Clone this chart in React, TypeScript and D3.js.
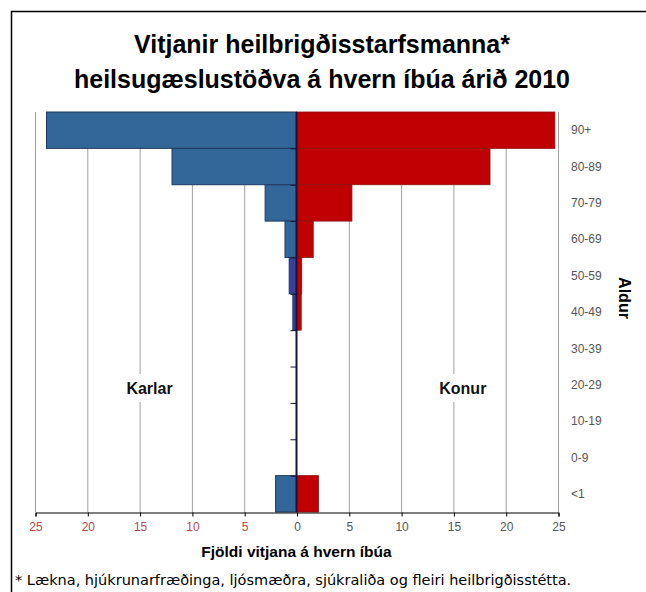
import React, { useEffect, useRef } from 'react';
import * as d3 from 'd3';

// age groups, top to bottom
const ageGroups = ['90+', '80-89', '70-79', '60-69', '50-59', '40-49', '30-39', '20-29', '10-19', '0-9', '<1'];
// visits per inhabitant
const karlar = [23.9, 11.9, 3.0, 1.1, 0.7, 0.35, 0, 0, 0, 0, 2.0];
const konur = [24.7, 18.5, 5.3, 1.6, 0.5, 0.45, 0, 0, 0, 0, 2.1];
const xTicks = [-25, -20, -15, -10, -5, 0, 5, 10, 15, 20, 25];

const titleLines = ['Vitjanir heilbrigðisstarfsmanna*', 'heilsugæslustöðva á hvern íbúa árið 2010'];
const xTitle = 'Fjöldi vitjana á hvern íbúa';
const yTitle = 'Aldur';
const footnote = '* Lækna, hjúkrunarfræðinga, ljósmæðra, sjúkraliða og fleiri heilbrigðisstétta.';

const PopulationPyramid = () => {
  const svgRef = useRef();

  useEffect(() => {
    const svg = d3.select(svgRef.current)
      .attr('width', 646)
      .attr('height', 592);

    svg.selectAll('*').remove();

    svg.append('rect')
      .attr('width', 646)
      .attr('height', 592)
      .attr('fill', '#fff');

    // frame (left + top edges only visible)
    svg.append('path')
      .attr('d', 'M11.5,592 V11.5 H646')
      .attr('fill', 'none')
      .attr('stroke', '#000')
      .attr('stroke-width', 1.5);

    // title
    svg.append('g')
      .selectAll('text')
      .data(titleLines)
      .join('text')
      .attr('x', 322)
      .attr('y', (d, i) => 53 + i * 35)
      .attr('text-anchor', 'middle')
      .style('font-family', 'Liberation Sans, Arial, sans-serif')
      .style('font-size', '25px')
      .style('font-weight', '700')
      .text(d => d);

    const x = d3.scaleLinear().domain([-25, 25]).range([35, 558]);
    const y = d3.scaleBand().domain(ageGroups).range([112, 512]).padding(0);

    // vertical grid
    svg.append('g')
      .selectAll('line')
      .data(xTicks.filter(d => d !== 0))
      .join('line')
      .attr('x1', d => x(d) + 0.5)
      .attr('x2', d => x(d) + 0.5)
      .attr('y1', y.range()[0])
      .attr('y2', y.range()[1])
      .attr('stroke', '#a0a0a0')
      .attr('stroke-width', 1);

    // group labels with white backing
    const groupLabels = [
      { text: 'Karlar', x: x(-14.05), y: 388 },
      { text: 'Konur', x: x(15.9), y: 388 },
    ];
    const gl = svg.append('g');
    groupLabels.forEach(l => {
      gl.append('rect')
        .attr('x', l.x - 30)
        .attr('y', l.y - 14)
        .attr('width', 60)
        .attr('height', 28)
        .attr('fill', '#fff');
      gl.append('text')
        .attr('x', l.x)
        .attr('y', l.y)
        .attr('dy', '0.35em')
        .attr('text-anchor', 'middle')
        .style('font-family', 'Liberation Sans, Arial, sans-serif')
        .style('font-size', '16px')
        .style('font-weight', '700')
        .attr('fill', '#111')
        .text(l.text);
    });

    // bars (thin male bars show up darker navy in the original)
    svg.append('g')
      .selectAll('rect')
      .data(karlar.map((v, i) => ({ age: ageGroups[i], v })))
      .join('rect')
      .attr('x', d => x(-d.v))
      .attr('y', d => y(d.age))
      .attr('width', d => x(0) - x(-d.v))
      .attr('height', y.bandwidth())
      .attr('fill', d => (d.v < 1 ? '#34409a' : '#336699'))
      .attr('stroke', '#1f3a60')
      .attr('stroke-width', d => (d.v > 0 ? 1 : 0));

    svg.append('g')
      .selectAll('rect')
      .data(konur.map((v, i) => ({ age: ageGroups[i], v })))
      .join('rect')
      .attr('x', x(0))
      .attr('y', d => y(d.age))
      .attr('width', d => x(d.v) - x(0))
      .attr('height', y.bandwidth())
      .attr('fill', '#c00000')
      .attr('stroke', '#8a1010')
      .attr('stroke-width', d => (d.v > 0 ? 0.8 : 0));

    // zero axis with small ticks at band boundaries
    const zero = svg.append('g');
    zero.append('line')
      .attr('x1', x(0))
      .attr('x2', x(0))
      .attr('y1', y.range()[0])
      .attr('y2', y.range()[1])
      .attr('stroke', '#14143c')
      .attr('stroke-width', 2);
    zero.selectAll('line.tk')
      .data(ageGroups.slice(1))
      .join('line')
      .attr('class', 'tk')
      .attr('x1', x(0) - 6)
      .attr('x2', x(0))
      .attr('y1', d => y(d) + 0.5)
      .attr('y2', d => y(d) + 0.5)
      .attr('stroke', '#14143c')
      .attr('stroke-width', 1);

    // bottom axis
    const xAxis = svg.append('g')
      .attr('transform', `translate(0.5,${y.range()[1] + 0.5})`)
      .call(d3.axisBottom(x).tickValues(xTicks).tickSize(4).tickPadding(6).tickFormat(d => Math.abs(d)));
    xAxis.select('.domain').attr('stroke', '#000');
    xAxis.selectAll('.tick line').attr('stroke', '#000');
    xAxis.selectAll('text')
      .style('font-family', 'Liberation Sans, Arial, sans-serif')
      .style('font-size', '12px')
      .attr('fill', d => (d < 0 ? '#b5484a' : '#555'));

    svg.append('text')
      .attr('x', x(0))
      .attr('y', 557)
      .attr('text-anchor', 'middle')
      .style('font-family', 'Liberation Sans, Arial, sans-serif')
      .style('font-size', '15.5px')
      .style('font-weight', '700')
      .text(xTitle);

    // age labels on the right
    svg.append('g')
      .selectAll('text')
      .data(ageGroups)
      .join('text')
      .attr('x', 571)
      .attr('y', d => y(d) + y.bandwidth() / 2)
      .attr('dy', '0.35em')
      .style('font-family', 'Liberation Sans, Arial, sans-serif')
      .style('font-size', '12px')
      .attr('fill', '#555')
      .text(d => d);

    svg.append('text')
      .attr('transform', 'translate(619,298) rotate(90)')
      .attr('text-anchor', 'middle')
      .style('font-family', 'Liberation Sans, Arial, sans-serif')
      .style('font-size', '16px')
      .style('font-weight', '700')
      .text(yTitle);

    svg.append('text')
      .attr('x', 15)
      .attr('y', 585)
      .style('font-family', 'DejaVu Sans, Verdana, sans-serif')
      .style('font-size', '14.5px')
      .text(footnote);
  }, []);

  return <svg ref={svgRef} style={{ display: 'block' }}></svg>;
};

export default function App() {
  return (
    <div style={{ position: 'absolute', left: 0, top: 0 }}>
      <PopulationPyramid />
    </div>
  );
}
